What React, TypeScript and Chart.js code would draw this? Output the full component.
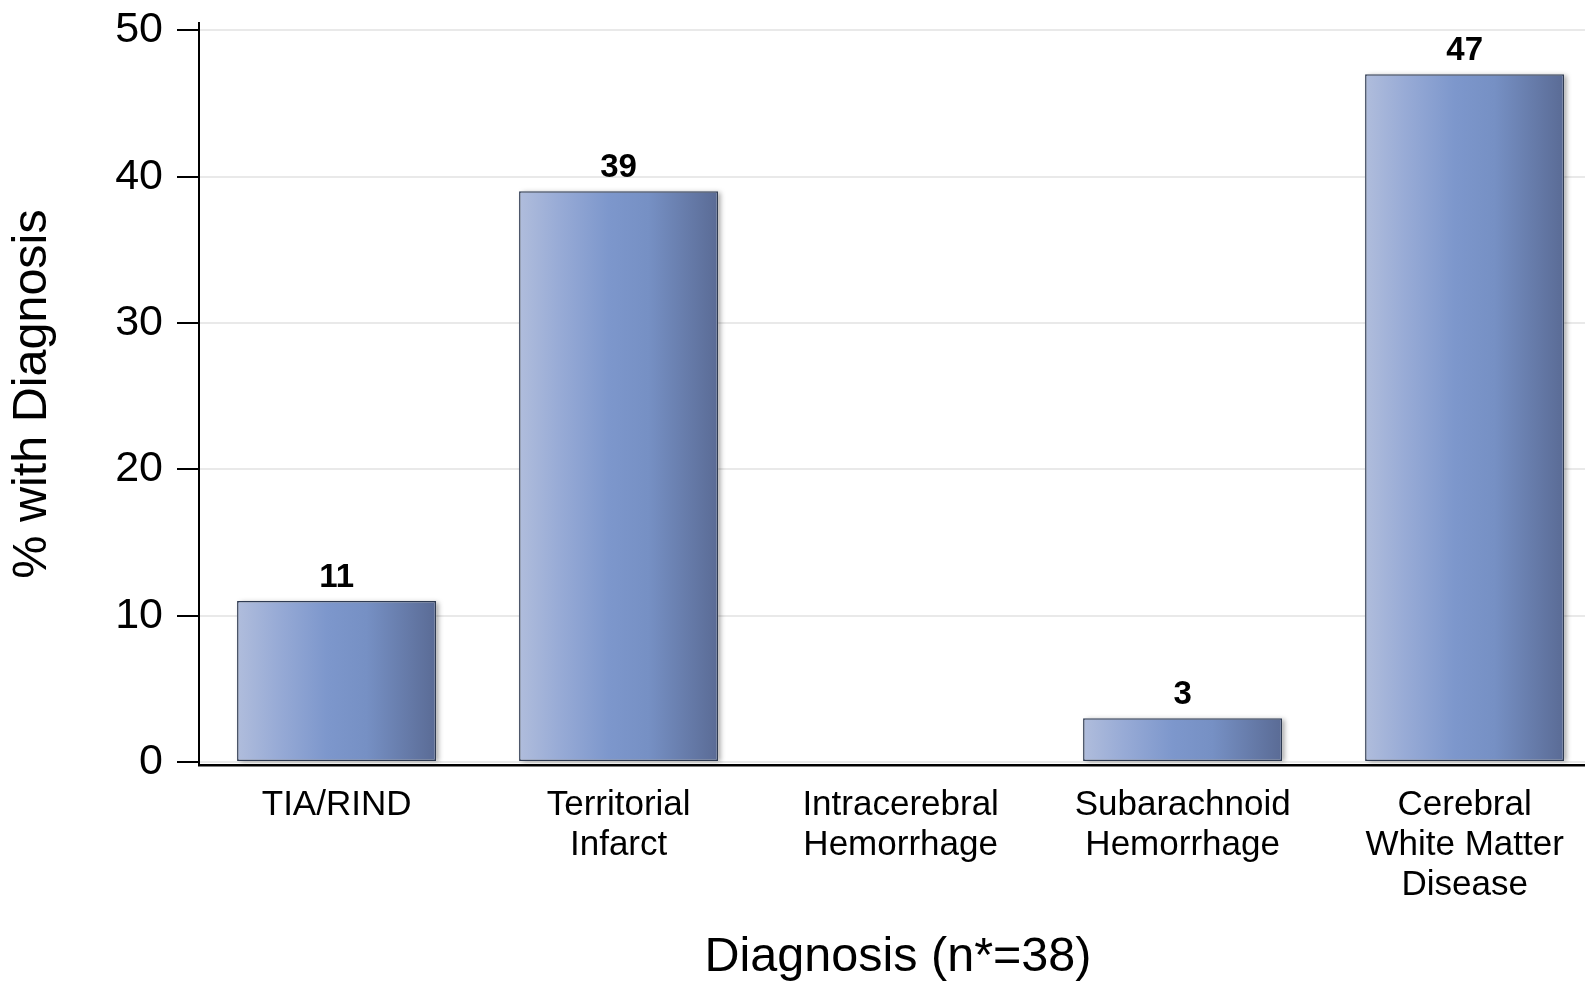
import React, { useEffect, useRef } from "react";
import { Chart, registerables } from "chart.js";

Chart.register(...registerables);

// ---- data ----
const categories: string[][] = [
  ["TIA/RIND"],
  ["Territorial", "Infarct"],
  ["Intracerebral", "Hemorrhage"],
  ["Subarachnoid", "Hemorrhage"],
  ["Cerebral", "White Matter", "Disease"],
];
const percentValues: number[] = [11, 39, 0, 3, 47];
const yTicks: number[] = [0, 10, 20, 30, 40, 50];
const xAxisTitle = "Diagnosis (n*=38)";
const yAxisTitle = "% with Diagnosis";

const FONT = '"Liberation Sans", Arial, Helvetica, sans-serif';
const BAR_FRACTION = 0.706;
const CANVAS_W = 1796;

export default function App() {
  const ref = useRef<HTMLCanvasElement>(null);

  useEffect(() => {
    const canvas = ref.current;
    if (!canvas) return;
    Chart.defaults.font.family = FONT;
    Chart.defaults.color = "#000";

    const barGradient = (c: any) => {
      const chart = c.chart;
      const xs = chart.scales?.x;
      if (!xs || c.dataIndex === undefined) return "#7b96cc";
      const cx = xs.getPixelForValue(c.dataIndex);
      const step = Math.abs(xs.getPixelForValue(1) - xs.getPixelForValue(0));
      if (!isFinite(cx) || !isFinite(step) || step <= 0) return "#7b96cc";
      const half = (step * BAR_FRACTION) / 2;
      const g = chart.ctx.createLinearGradient(cx - half, 0, cx + half, 0);
      g.addColorStop(0, "#b0bddc");
      g.addColorStop(0.2, "#98abd6");
      g.addColorStop(0.45, "#7d97cc");
      g.addColorStop(0.65, "#7690c4");
      g.addColorStop(1, "#5a6b95");
      return g;
    };

    const barDecor = {
      id: "barDecor",
      beforeDatasetsDraw(chart: any) {
        const ctx = chart.ctx;
        const meta = chart.getDatasetMeta(0);
        meta.data.forEach((el: any, i: number) => {
          if (!percentValues[i]) return;
          const { x, y, base, width } = el.getProps(["x", "y", "base", "width"], true);
          ctx.save();
          ctx.shadowColor = "rgba(0,0,0,0.35)";
          ctx.shadowBlur = 5;
          ctx.shadowOffsetX = 3;
          ctx.shadowOffsetY = 1;
          ctx.fillStyle = "#ffffff";
          ctx.fillRect(x - width / 2, Math.min(y, base), width, Math.abs(base - y));
          ctx.restore();
        });
      },
      afterDatasetsDraw(chart: any) {
        const ctx = chart.ctx;
        const meta = chart.getDatasetMeta(0);
        ctx.save();
        ctx.font = `bold 33px ${FONT}`;
        ctx.fillStyle = "#000";
        ctx.textAlign = "center";
        ctx.textBaseline = "alphabetic";
        meta.data.forEach((el: any, i: number) => {
          const v = percentValues[i];
          if (!v) return;
          const { x, y } = el.getProps(["x", "y"], true);
          ctx.fillText(String(v), x, y - 14);
        });
        ctx.restore();
      },
    };

    const chart = new Chart(canvas, {
      type: "bar",
      data: {
        datasets: [
          {
            data: percentValues.map((v, i) => ({ x: i, y: v })),
            backgroundColor: barGradient,
            borderColor: "#2f3b52",
            borderWidth: (c: any) => (percentValues[c.dataIndex] ? 1.5 : 0),
            borderSkipped: false,
            categoryPercentage: 1,
            barPercentage: BAR_FRACTION,
          },
        ],
      },
      options: {
        animation: false,
        responsive: false,
        devicePixelRatio: 1,
        events: [],
        layout: { padding: { top: 23, right: 0, bottom: 0, left: 0 } },
        plugins: {
          legend: { display: false },
          tooltip: { enabled: false },
          title: {
            display: true,
            text: xAxisTitle,
            position: "bottom",
            color: "#000",
            font: { family: FONT, size: 48.5, weight: "normal", lineHeight: "46px" },
            padding: { top: 0, bottom: 0 },
          },
        },
        scales: {
          x: {
            type: "linear",
            min: -0.488,
            max: 5.175,
            offset: false,
            afterBuildTicks: (s: any) => {
              s.ticks = categories.map((_, i) => ({ value: i }));
            },
            afterFit: (s: any) => {
              s.height = 170;
              s.paddingLeft = 0;
              s.paddingRight = 0;
            },
            grid: { display: false, drawTicks: false, offset: false },
            border: { display: true, color: "#000", width: 2.5 },
            ticks: {
              autoSkip: false,
              maxRotation: 0,
              minRotation: 0,
              padding: 20,
              color: "#000",
              font: { family: FONT, size: 35, lineHeight: "40px" },
              callback: (v: any) => categories[v as number] ?? "",
            },
          },
          y: {
            type: "linear",
            min: -0.2,
            max: 50.5,
            afterBuildTicks: (s: any) => {
              s.ticks = yTicks.map((v) => ({ value: v }));
            },
            afterFit: (s: any) => {
              s.width = 199;
              s.paddingTop = 0;
              s.paddingBottom = 0;
            },
            grid: {
              color: "#e9e9e9",
              lineWidth: 2,
              drawTicks: true,
              tickLength: 22,
              tickColor: "#000",
              tickWidth: 2,
            },
            border: { display: true, color: "#000", width: 2 },
            ticks: {
              padding: 14,
              color: "#000",
              font: { family: FONT, size: 43 },
            },
            title: {
              display: true,
              text: yAxisTitle,
              color: "#000",
              font: { family: FONT, size: 48.5 },
              padding: { top: 4, bottom: 0 },
            },
          },
        },
      },
      plugins: [barDecor],
    } as any);

    return () => chart.destroy();
  }, []);

  return (
    <div
      style={{
        position: "fixed",
        left: 0,
        top: 0,
        width: 1585,
        height: 981,
        overflow: "hidden",
        background: "#ffffff",
      }}
    >
      <canvas ref={ref} width={CANVAS_W} height={981} style={{ display: "block", width: CANVAS_W, height: 981 }} />
    </div>
  );
}
